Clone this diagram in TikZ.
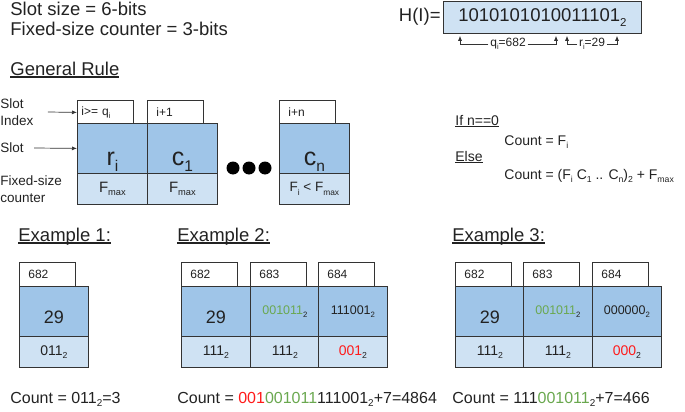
\documentclass[tikz,border=0pt]{standalone}
\usepackage{fontspec}
\setmainfont{Liberation Sans}
\usepackage{xcolor}
\usepackage{tikz}
\usetikzlibrary{arrows.meta,positioning}

\definecolor{slotblue}{HTML}{9FC5E8}
\definecolor{cntblue}{HTML}{CFE2F3}
\definecolor{edge}{HTML}{333333}
\definecolor{ink}{HTML}{222222}
\definecolor{grn}{HTML}{6AA84F}
\definecolor{hot}{HTML}{FF1A1A}

\makeatletter
\newcommand{\lo}[1]{\raisebox{-0.24em}{\fontsize{\strip@pt\dimexpr0.62\dimexpr\f@size pt\relax\relax}{0pt}\selectfont #1}}
\makeatother
\newcommand{\fsz}[2]{\fontsize{#1}{#2}\selectfont}
\newcommand{\undl}[1]{\setbox0\hbox{#1}\rlap{\rule[-0.14em]{\wd0}{0.07em}}\box0}

\begin{document}
\begin{tikzpicture}[x=1pt,y=-1pt,line width=0.8,
  every node/.append style={text=ink},
  txt/.style={inner sep=0,anchor=base west},
  idx/.style={draw=edge,fill=white,anchor=north west,minimum height=24,
    text width=38,inner xsep=9,inner ysep=0,align=left,font=\fsz{12}{14}},
  slot/.style={draw=edge,fill=slotblue,anchor=north west,minimum width=#1,
    minimum height=50,inner sep=0,font=\fsz{12.5}{14}},
  slot/.default=69,
  cnt/.style={draw=edge,fill=cntblue,anchor=north west,minimum width=#1,
    minimum height=31,inner sep=0,font=\fsz{14}{16}},
  cnt/.default=69,
  low/.style={text height=#1,text depth=50-#1},
  ptr/.style={-{Latex[length=5pt,width=4pt]},draw=edge,line width=0.7}]
  \useasboundingbox (0,0) rectangle (685,412);

  % header
  \node[txt,font=\fsz{18.5}{22}] (size) at (10,16) {Slot size = 6-bits};
  \node[txt,font=\fsz{18.5}{22}] (fixed) at (10,36) {Fixed-size counter = 3-bits};
  \node[txt,font=\fsz{18.5}{22}] (rule) at (10,75) {\undl{General Rule}};

  % hash of the item
  \node[draw=edge,fill=cntblue,anchor=north west,minimum width=198,minimum height=32,
    inner sep=0,font=\fsz{18.5}{22}] (hash) at (443,1) {1010101010011101\lo{2}};
  \node[txt,anchor=base east,font=\fsz{18.5}{22}] (hlabel) at (441,22) {H(I)=};
  \node[inner sep=1.5,font=\fsz{12}{14}] (qlab) at (508,44) {q\lo{i}=682};
  \node[inner sep=1.5,font=\fsz{12}{14}] (rlab) at (592,44) {r\lo{i}=29};
  \draw[ptr] (qlab.west) -| ([shift={(17,2)}]hash.south west);
  \draw[ptr] (qlab.east) -| ([shift={(113,2)}]hash.south west);
  \draw[ptr] (rlab.west) -| ([shift={(124,2)}]hash.south west);
  \draw[ptr] (rlab.east) -| ([shift={(174,2)}]hash.south west);

  % general rule
  \node[txt,anchor=west,align=left,font=\fsz{13.5}{17}] (lbidx) at (0,112) {Slot\\Index};
  \node[txt,anchor=west,font=\fsz{13.5}{17}] (lbslot) at (0,148) {Slot};
  \node[txt,anchor=west,align=left,font=\fsz{13.5}{17}] (lbcnt) at (0,189) {Fixed-size\\counter};

  \node[idx,inner xsep=4,text width=48] (gi1) at (77,100) {i>= q\lo{i}};
  \node[idx] (gi2) at (147,100) {i+1};
  \node[idx] (gi3) at (279,100) {i+n};
  \node[slot=70,low=42,font=\fsz{25}{28}] (gs1) at (77,123) {r\lo{i}};
  \node[slot=70,low=42,font=\fsz{25}{28}] (gs2) at (147,123) {c\lo{1}};
  \node[slot=70,low=42,font=\fsz{25}{28}] (gs3) at (279,123) {c\lo{n}};
  \node[cnt=70,font=\fsz{15}{17}] (gc1) at (77,173) {F\lo{max}};
  \node[cnt=70,font=\fsz{15}{17}] (gc2) at (147,173) {F\lo{max}};
  \node[cnt=70,font=\fsz{13.5}{15}] (gc3) at (279,173) {F\lo{i} < F\lo{max}};
  \fill[black] (233,168) circle[radius=6.5pt];
  \fill[black] (249,168) circle[radius=6.5pt];
  \fill[black] (265,168) circle[radius=6.5pt];

  \draw[ptr] ([xshift=14]lbidx.east) -- (gi1.west);
  \draw[ptr] ([xshift=10]lbslot.east) -- (gs1.west);

  \node[txt,font=\fsz{14}{16}] (ifzero) at (455,125) {\undl{If n==0}};
  \node[txt,font=\fsz{14}{16}] (cntzero) at (504,145) {Count = F\lo{i}};
  \node[txt,font=\fsz{14}{16}] (other) at (455,161) {\undl{Else}};
  \node[txt,font=\fsz{14}{16}] (cntmany) at (504,179)
    {Count = (F\lo{i} C\lo{1} .. C\lo{n})\lo{2} + F\lo{max}};

  % example 1
  \node[txt,font=\fsz{18.5}{22}] (ex1) at (18,241) {\undl{Example 1:}};
  \node[idx] (ai1) at (19,262) {682};
  \node[slot,low=37,font=\fsz{18}{20}] (as1) at (19,286) {29};
  \node[cnt] (ac1) at (19,336) {011\lo{2}};
  \node[txt,font=\fsz{16}{19}] (acount) at (10,403) {Count = 011\lo{2}=3};

  % example 2
  \node[txt,font=\fsz{18.5}{22}] (ex2) at (177,241) {\undl{Example 2:}};
  \node[idx] (bi1) at (181,262) {682};
  \node[idx] (bi2) at (250,262) {683};
  \node[idx] (bi3) at (318,262) {684};
  \node[slot,low=37,font=\fsz{18}{20}] (bs1) at (181,286) {29};
  \node[slot] (bs2) at (250,286) {{\color{grn}001011}\lo{2}};
  \node[slot] (bs3) at (318,286) {111001\lo{2}};
  \node[cnt] (bc1) at (181,336) {111\lo{2}};
  \node[cnt] (bc2) at (250,336) {111\lo{2}};
  \node[cnt] (bc3) at (318,336) {{\color{hot}001}\lo{2}};
  \node[txt,font=\fsz{16}{19}] (bcount) at (177,403)
    {Count = {\color{hot}001}{\color{grn}001011}111001\lo{2}+7=4864};

  % example 3
  \node[txt,font=\fsz{18.5}{22}] (ex3) at (452,241) {\undl{Example 3:}};
  \node[idx] (ci1) at (455,262) {682};
  \node[idx] (ci2) at (523,262) {683};
  \node[idx] (ci3) at (592,262) {684};
  \node[slot,low=37,font=\fsz{18}{20}] (cs1) at (455,286) {29};
  \node[slot] (cs2) at (523,286) {{\color{grn}001011}\lo{2}};
  \node[slot] (cs3) at (592,286) {000000\lo{2}};
  \node[cnt] (cc1) at (455,336) {111\lo{2}};
  \node[cnt] (cc2) at (523,336) {111\lo{2}};
  \node[cnt] (cc3) at (592,336) {{\color{hot}000}\lo{2}};
  \node[txt,font=\fsz{16}{19}] (ccount) at (452,403)
    {Count = 111{\color{grn}001011}\lo{2}+7=466};
\end{tikzpicture}
\end{document}
